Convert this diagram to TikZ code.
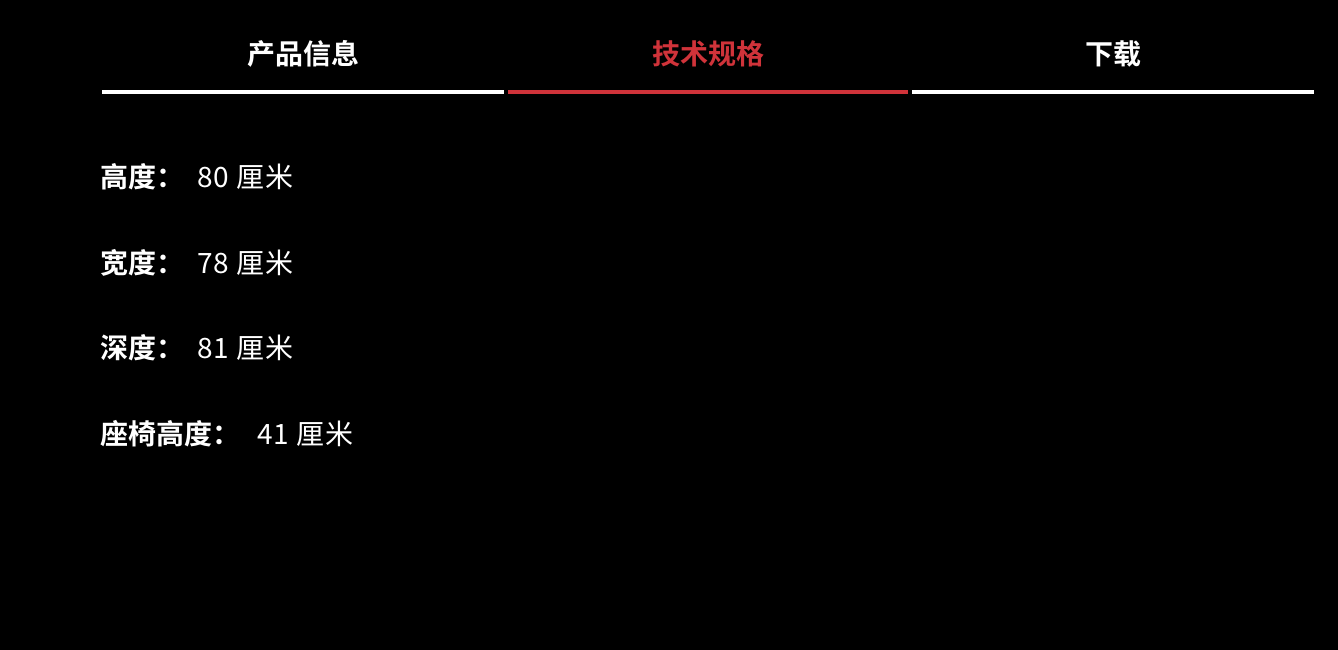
\documentclass[tikz,border=0pt]{standalone}
\usepackage{fontspec}
\setmainfont{Noto Sans CJK SC}
\newfontfamily\cjkb{Noto Sans CJK SC Bold}
\newfontfamily\cjkr[LetterSpace=3]{Noto Sans CJK SC}
\definecolor{accent}{HTML}{D0333A}
\tikzset{
  tab/.style={inner sep=0pt, font=\cjkb\fontsize{28}{32}\selectfont, text=white},
  bar/.style={line width=3.5pt, draw=white},
  lab/.style={inner sep=0pt, anchor=west, font=\cjkb\fontsize{28}{32}\selectfont, text=white},
  val/.style={inner sep=0pt, anchor=west, font=\cjkr\fontsize{28}{32}\selectfont, text=white},
}
\begin{document}
\begin{tikzpicture}[x=1pt,y=-1pt]
\fill[black] (0,0) rectangle (1338,650);
\useasboundingbox (0,0) rectangle (1338,650);
\node[tab] (t1) at (303,54) {产品信息};
\node[tab, text=accent] (t2) at (708,54) {技术规格};
\node[tab] (t3) at (1113,54) {下载};
\draw[bar] (102,92) -- (504,92);
\draw[bar, draw=accent] (508,92) -- (908,92);
\draw[bar] (912,92) -- (1314,92);
\node[lab] (l1) at (100,177) {高度：};
\node[val] (v1) at (197,177) {80 厘米};
\node[lab] (l2) at (100,263) {宽度：};
\node[val] (v2) at (197,263) {78 厘米};
\node[lab] (l3) at (100,348) {深度：};
\node[val] (v3) at (197,348) {81 厘米};
\node[lab] (l4) at (100,434) {座椅高度：};
\node[val] (v4) at (257,434) {41 厘米};
\end{tikzpicture}
\end{document}
